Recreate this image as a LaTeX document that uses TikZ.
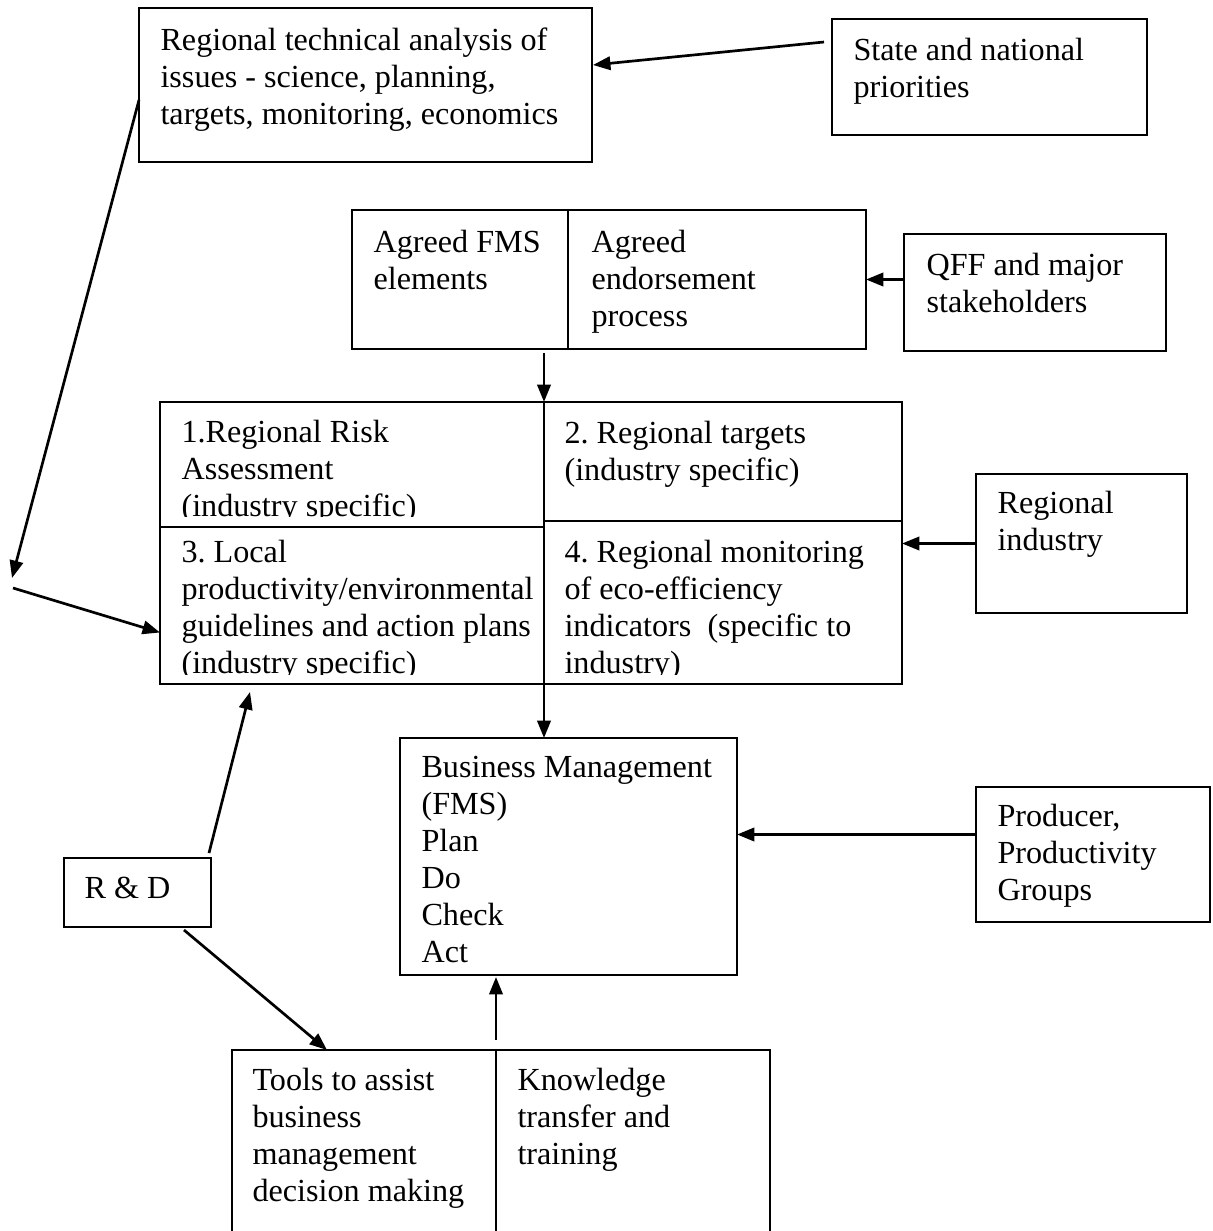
\documentclass[tikz,border=0pt]{standalone}
\usepackage{fontspec}
\setmainfont{Liberation Serif}
\frenchspacing
\usetikzlibrary{arrows.meta,positioning,fit,calc}
\tikzset{
    box/.style={
        draw=black,
        rectangle,
        inner sep=0pt,
        outer sep=0pt,
        line width=0.8pt
    },
    txt/.style={
        anchor=base west,
        align=left,
        inner sep=0pt,
        font=\fontsize{12}{13.8}\selectfont
    },
    arrow/.style={
        -{Triangle[length=6.5pt,width=5pt]},
        line width=1pt,
        color=black
    }
}

\begin{document}
\begin{tikzpicture}[x=0.373pt, y=-0.373pt]
    \useasboundingbox (0,0) rectangle (1212,1231);

    % Regional analysis and priorities (text placed by its last baseline)
    \node[box, fit={(139,8) (592,162)}] (tech) {};
    \node[txt] (techtxt) at (160,124) {Regional technical analysis of\\issues - science, planning,\\targets, monitoring, economics};
    \node[box, fit={(832,19) (1147,135)}] (state) {};
    \node[txt] (statetxt) at (853,97) {State and national\\priorities};

    % Agreed elements
    \node[box, fit={(352,210) (568,349)}] (afms) {};
    \node[box, fit={(568,210) (866,349)}] (aend) {};
    \node[txt] (afmstxt) at (373,289) {Agreed FMS\\elements};
    \node[txt] (aendtxt) at (591,326) {Agreed\\endorsement\\process};
    \node[box, fit={(904,234) (1166,351)}] (qff) {};
    \node[txt] (qfftxt) at (926,312) {QFF and major\\stakeholders};

    % Regional cells
    \node[box, fit={(160,402) (544,527)}] (cell1) {};
    \node[box, fit={(544,402) (902,521)}] (cell2) {};
    \node[box, fit={(160,527) (544,684)}] (cell3) {};
    \node[box, fit={(544,521) (902,684)}] (cell4) {};
    \begin{scope}
        \clip (160,402) rectangle (544,516);
        \node[txt] (cell1txt) at (181,516) {1.Regional Risk\\Assessment\\(industry specific)};
    \end{scope}
    \node[txt] (cell2txt) at (564,480) {2. Regional targets\\(industry specific)};
    \begin{scope}
        \clip (160,527) rectangle (544,674);
        \node[txt] (cell3txt) at (181,673) {3. Local\\productivity/environmental\\guidelines and action plans\\(industry specific)};
    \end{scope}
    \begin{scope}
        \clip (544,521) rectangle (902,674);
        \node[txt] (cell4txt) at (564,673) {4. Regional monitoring\\of eco-efficiency\\indicators~ (specific to\\industry)};
    \end{scope}
    \node[box, fit={(976,474) (1187,613)}] (ind) {};
    \node[txt] (indtxt) at (997,550) {Regional\\industry};

    % Business management
    \node[box, fit={(400,738) (737,975)}] (bm) {};
    \node[txt] (bmtxt) at (421,962) {Business Management\\(FMS)\\Plan\\Do\\Check\\Act};
    \node[box, fit={(976,787) (1210,922)}] (prod) {};
    \node[txt] (prodtxt) at (997,900) {Producer,\\Productivity\\Groups};
    \node[box, fit={(64,858) (211,927)}] (rd) {};
    \node[txt] (rdtxt) at (84,898) {R \& D};

    % Tools and training
    \node[box, fit={(232,1050) (496,1240)}] (tools) {};
    \node[box, fit={(496,1050) (770,1240)}] (know) {};
    \node[txt] (toolstxt) at (252,1201) {Tools to assist\\business\\management\\decision making};
    \node[txt] (knowtxt) at (517,1164) {Knowledge\\transfer and\\training};

    % Connectors
    \draw[arrow] ($(state.north west)+(-8,23)$) -- ($(tech.north east)+(1,57)$);
    \coordinate (bendA) at (12,578);
    \coordinate (bendB) at (13,588);
    \draw[arrow] ($(tech.west)+(0,15)$) -- (bendA);
    \draw[arrow] (bendB) -- ($(cell3.west)+(0,27)$);
    \draw[arrow] ($(afms.south east)+(-24,4)$) -- (cell2.north west);
    \draw[arrow] (qff.west |- aend.east) -- (aend.east);
    \draw[arrow] (ind.west) -- (ind.west -| cell4.east);
    \draw[arrow] (cell4.south west) -- (cell4.south west |- bm.north);
    \coordinate (prodout) at ($(prod.west)+(0,-20)$);
    \draw[arrow] (prodout) -- (prodout -| bm.east);
    \draw[arrow] ($(rd.north east)+(-2,-5)$) -- ($(cell3.south west)+(90,8)$);
    \draw[arrow] ($(rd.south west)+(120,3)$) -- ($(tools.north west)+(95,0)$);
    \coordinate (bmin) at (tools.north east |- bm.south);
    \draw[arrow] ($(tools.north east)+(0,-10)$) -- ($(bmin)+(0,2)$);
\end{tikzpicture}
\end{document}
